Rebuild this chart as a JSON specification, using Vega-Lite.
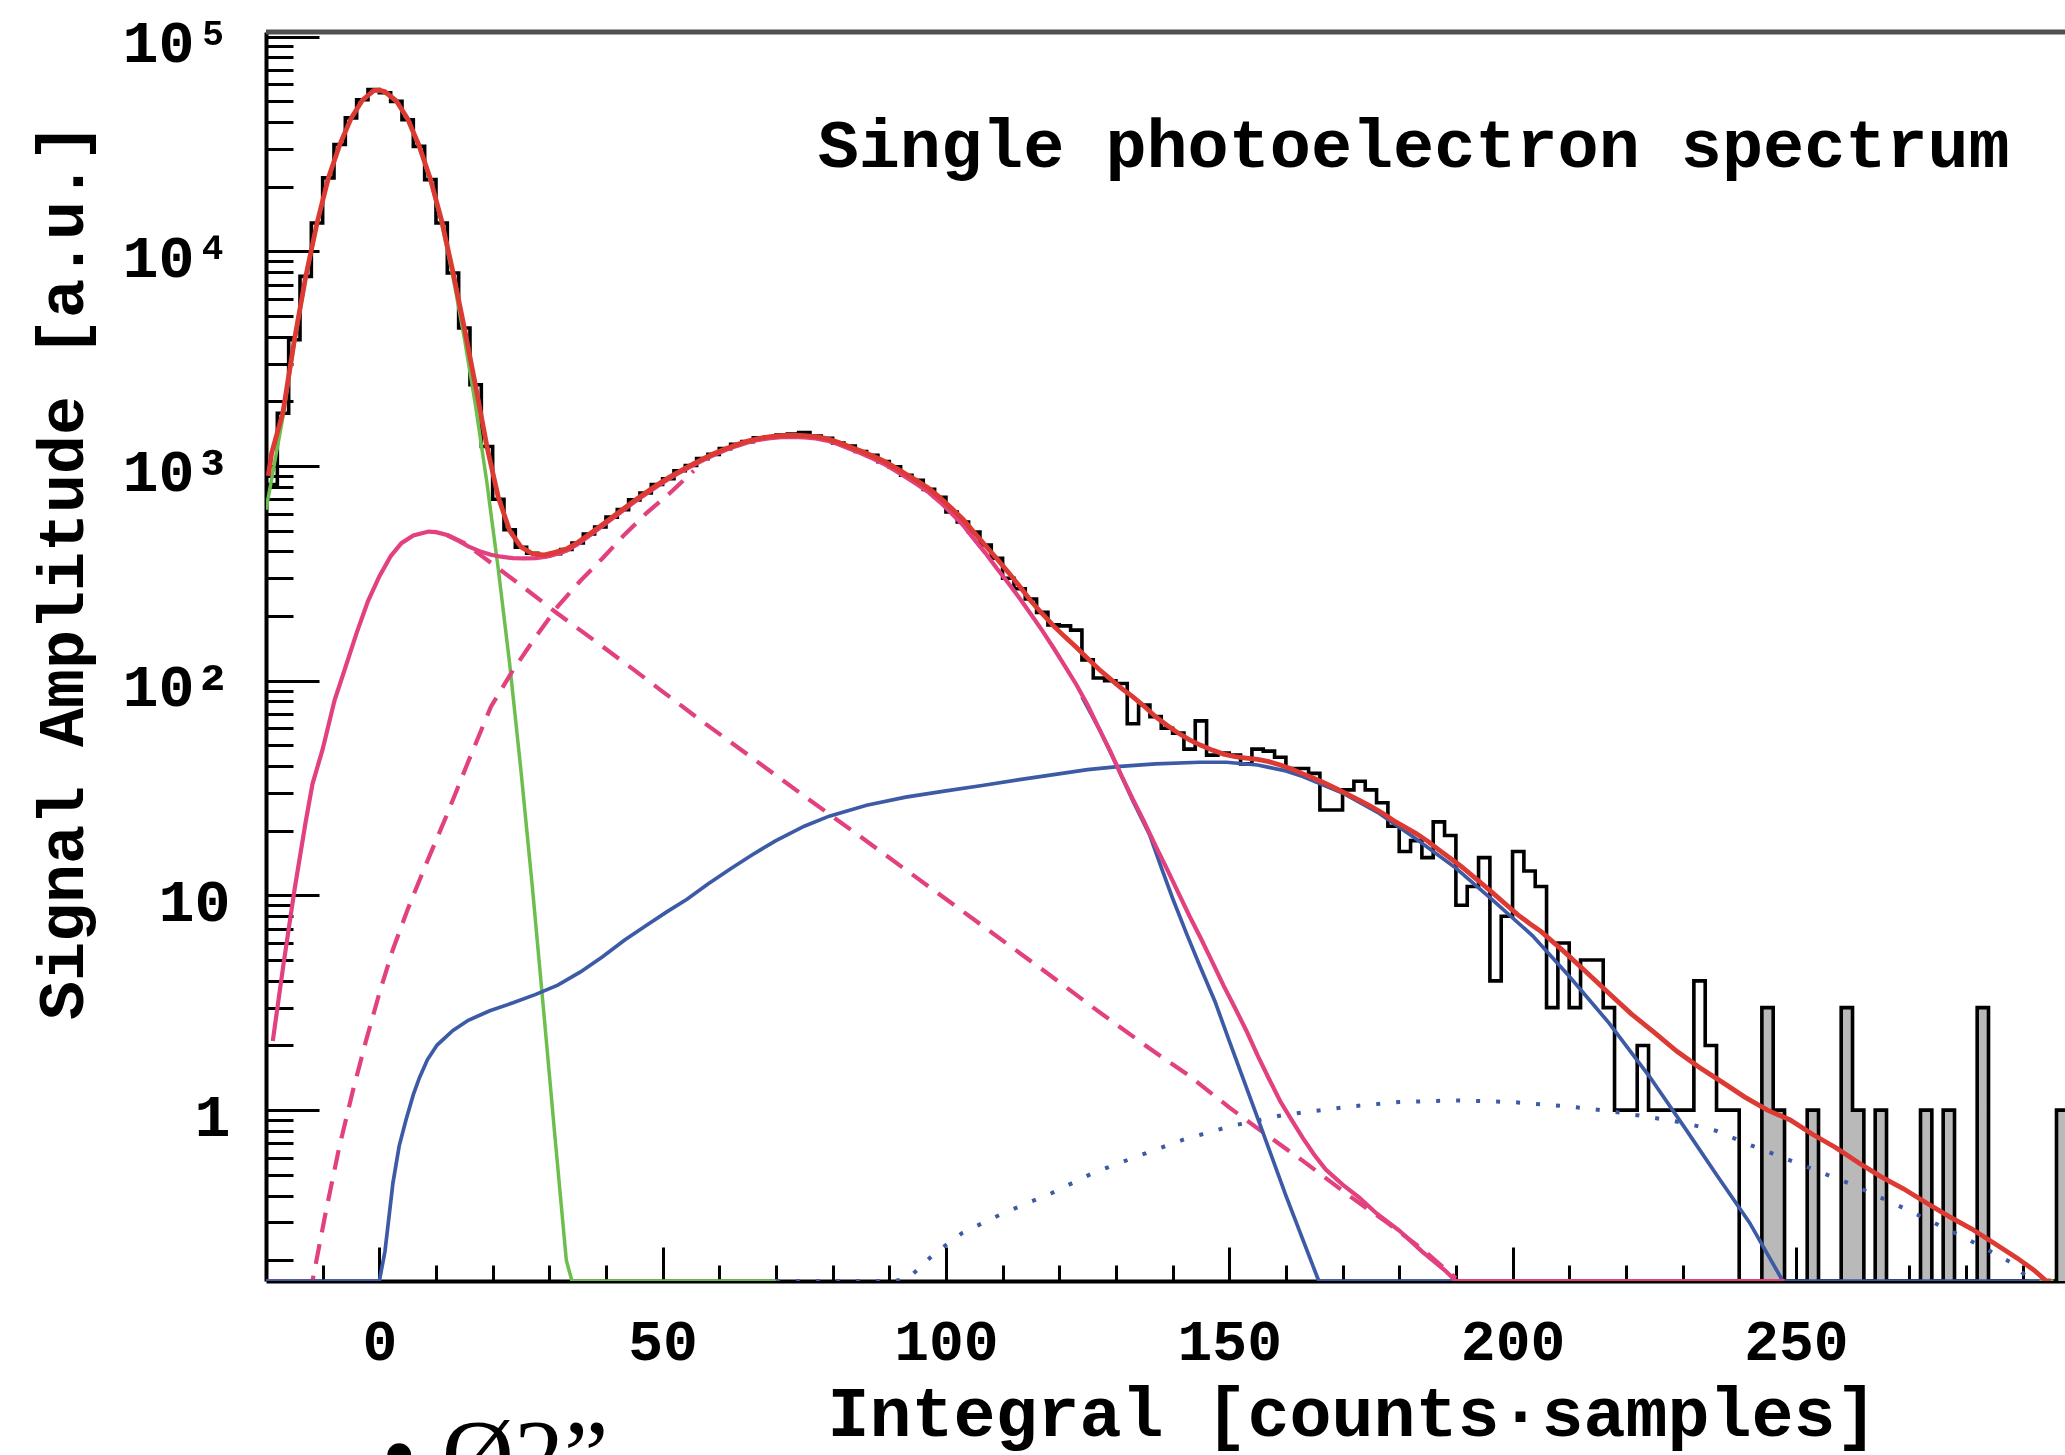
{
  "$schema": "https://vega.github.io/schema/vega-lite/v6.json",
  "width": 1799,
  "height": 1249,
  "autosize": {"type": "none"},
  "padding": {"left": 266, "top": 32, "right": 0, "bottom": 174},
  "background": "white",
  "config": {"view": {"stroke": null}},
  "datasets": {
    "hist": [
      {"x":-20,"y":820},{"x":-18,"y":1760},{"x":-16,"y":3870},{"x":-14,"y":7640},{"x":-12,"y":13550},{"x":-10,"y":21970},{"x":-8,"y":31400},{"x":-6,"y":41800},{"x":-4,"y":50800},{"x":-2,"y":56600},
      {"x":0,"y":54700},{"x":2,"y":49900},{"x":4,"y":41000},{"x":6,"y":30800},{"x":8,"y":21560},{"x":10,"y":13550},{"x":12,"y":7920},{"x":14,"y":4390},{"x":16,"y":2390},{"x":18,"y":1233},
      {"x":20,"y":700},{"x":22,"y":505},{"x":24,"y":418},{"x":26,"y":392},{"x":28,"y":380},{"x":30,"y":390},{"x":32,"y":408},{"x":34,"y":438},{"x":36,"y":482},{"x":38,"y":520},
      {"x":40,"y":578},{"x":42,"y":626},{"x":44,"y":695},{"x":46,"y":748},{"x":48,"y":820},{"x":50,"y":872},{"x":52,"y":950},{"x":54,"y":1005},{"x":56,"y":1082},{"x":58,"y":1132},
      {"x":60,"y":1205},{"x":62,"y":1262},{"x":64,"y":1298},{"x":66,"y":1352},{"x":68,"y":1365},{"x":70,"y":1392},{"x":72,"y":1410},{"x":74,"y":1432},{"x":76,"y":1378},{"x":78,"y":1346},
      {"x":80,"y":1280},{"x":82,"y":1238},{"x":84,"y":1168},{"x":86,"y":1120},{"x":88,"y":1048},{"x":90,"y":990},{"x":92,"y":905},{"x":94,"y":858},{"x":96,"y":778},{"x":98,"y":715},
      {"x":100,"y":610},{"x":102,"y":548},{"x":104,"y":492},{"x":106,"y":428},{"x":108,"y":372},{"x":110,"y":300},{"x":112,"y":268},{"x":114,"y":240},{"x":116,"y":208},{"x":118,"y":182},
      {"x":120,"y":180},{"x":122,"y":172},{"x":124,"y":125},{"x":126,"y":103},{"x":128,"y":100},{"x":130,"y":97},{"x":132,"y":63},{"x":134,"y":77},{"x":136,"y":68},{"x":138,"y":60},
      {"x":140,"y":57},{"x":142,"y":48},{"x":144,"y":65},{"x":146,"y":45},{"x":148,"y":46},{"x":150,"y":45},{"x":152,"y":41},{"x":154,"y":48},{"x":156,"y":47},{"x":158,"y":44},
      {"x":160,"y":39},{"x":162,"y":39},{"x":164,"y":37},{"x":166,"y":25},{"x":168,"y":25},{"x":170,"y":31},{"x":172,"y":34},{"x":174,"y":31},{"x":176,"y":27},{"x":178,"y":21},
      {"x":180,"y":16},{"x":182,"y":18},{"x":184,"y":15},{"x":186,"y":22},{"x":188,"y":19},{"x":190,"y":9},{"x":192,"y":11},{"x":194,"y":15},{"x":196,"y":4},{"x":198,"y":8},
      {"x":200,"y":16},{"x":202,"y":13},{"x":204,"y":11},{"x":206,"y":3},{"x":208,"y":6},{"x":210,"y":3},{"x":212,"y":5},{"x":214,"y":5},{"x":216,"y":3},{"x":218,"y":1},
      {"x":220,"y":1},{"x":222,"y":2},{"x":224,"y":1},{"x":226,"y":1},{"x":228,"y":1},{"x":230,"y":1},{"x":232,"y":4},{"x":234,"y":2},{"x":236,"y":1},{"x":238,"y":1},
      {"x":240,"y":0},{"x":242,"y":0},{"x":244,"y":3},{"x":246,"y":1},{"x":248,"y":0},{"x":250,"y":0},{"x":252,"y":1},{"x":254,"y":0},{"x":256,"y":0},{"x":258,"y":3},
      {"x":260,"y":1},{"x":262,"y":0},{"x":264,"y":1},{"x":266,"y":0},{"x":268,"y":0},{"x":270,"y":0},{"x":272,"y":1},{"x":274,"y":0},{"x":276,"y":1},{"x":278,"y":0},
      {"x":280,"y":0},{"x":282,"y":3},{"x":284,"y":0},{"x":286,"y":0},{"x":288,"y":0},{"x":290,"y":0},{"x":292,"y":0},{"x":294,"y":0},{"x":296,"y":1},{"x":298,"y":1}
    ],
    "green": [
      {"seg":"a","x":-20,"y":625},{"seg":"a","x":-19,"y":870},{"seg":"a","x":-17,"y":1700},{"seg":"a","x":-15,"y":3750},{"seg":"a","x":-13,"y":7500},{"seg":"a","x":-11,"y":13400},{"seg":"a","x":-9,"y":21800},{"seg":"a","x":-7,"y":31200},{"seg":"a","x":-5,"y":41400},{"seg":"a","x":-3,"y":50400},{"seg":"a","x":-1,"y":55900},{"seg":"a","x":0,"y":56200},{"seg":"a","x":1,"y":55000},{"seg":"a","x":3,"y":49800},{"seg":"a","x":5,"y":41000},{"seg":"a","x":7,"y":30700},{"seg":"a","x":9,"y":21400},{"seg":"a","x":11,"y":13500},{"seg":"a","x":13,"y":7600},{"seg":"a","x":15,"y":3950},{"seg":"a","x":17,"y":1900},{"seg":"a","x":19,"y":830},{"seg":"a","x":21,"y":330},{"seg":"a","x":23,"y":120},{"seg":"a","x":25,"y":38},{"seg":"a","x":27,"y":11},{"seg":"a","x":29,"y":2.9},{"seg":"a","x":31,"y":0.75},{"seg":"a","x":33,"y":0.2},{"seg":"a","x":34,"y":0.12},{"seg":"a","x":70,"y":0.01},
      {"seg":"b","x":291,"y":0.01},{"seg":"b","x":295.5,"y":0.01}
    ],
    "dotted": [
      {"x":70,"y":0.01},{"x":91,"y":0.05},{"x":93.4,"y":0.165},{"x":98,"y":0.215},{"x":102.9,"y":0.268},{"x":110,"y":0.33},{"x":118.6,"y":0.41},{"x":126,"y":0.51},{"x":134.4,"y":0.618},{"x":142,"y":0.73},{"x":150.1,"y":0.84},{"x":159.6,"y":0.95},{"x":171.3,"y":1.04},{"x":180,"y":1.09},{"x":190,"y":1.11},{"x":200,"y":1.09},{"x":210,"y":1.04},{"x":217,"y":0.99},{"x":224,"y":0.93},{"x":230.5,"y":0.87},{"x":236,"y":0.8},{"x":241.8,"y":0.69},{"x":250,"y":0.57},{"x":259.5,"y":0.455},{"x":268,"y":0.36},{"x":277.1,"y":0.276},{"x":283,"y":0.23},{"x":288.3,"y":0.193},{"x":291,"y":0.165},{"x":292,"y":0.1}
    ],
    "dashed": [
      {"seg":"exp","x":12,"y":478},{"seg":"exp","x":15,"y":438},{"seg":"exp","x":19.7,"y":354},{"seg":"exp","x":25,"y":278},{"seg":"exp","x":31.5,"y":205},{"seg":"exp","x":38.9,"y":147.5},{"seg":"exp","x":45,"y":112},{"seg":"exp","x":50,"y":89},{"seg":"exp","x":56.6,"y":65.7},{"seg":"exp","x":65,"y":45.3},{"seg":"exp","x":75,"y":29},{"seg":"exp","x":85,"y":18.7},{"seg":"exp","x":95,"y":12},{"seg":"exp","x":105,"y":7.7},{"seg":"exp","x":117.9,"y":4.34},{"seg":"exp","x":126,"y":3.0},{"seg":"exp","x":135.9,"y":1.94},{"seg":"exp","x":142.7,"y":1.46},{"seg":"exp","x":150,"y":1.03},{"seg":"exp","x":156.2,"y":0.78},{"seg":"exp","x":163,"y":0.58},{"seg":"exp","x":171.7,"y":0.39},{"seg":"exp","x":177.8,"y":0.30},{"seg":"exp","x":184,"y":0.226},{"seg":"exp","x":190,"y":0.165},
      {"seg":"gaus","x":-20,"y":0.01},{"seg":"gaus","x":-13,"y":0.05},{"seg":"gaus","x":-11.8,"y":0.16},{"seg":"gaus","x":-9.5,"y":0.33},{"seg":"gaus","x":-7.1,"y":0.667},{"seg":"gaus","x":-4.7,"y":1.22},{"seg":"gaus","x":-2.4,"y":2.08},{"seg":"gaus","x":0,"y":3.5},{"seg":"gaus","x":2.4,"y":5.6},{"seg":"gaus","x":5,"y":8.6},{"seg":"gaus","x":8,"y":13.5},{"seg":"gaus","x":11.8,"y":23.3},{"seg":"gaus","x":15.7,"y":42},{"seg":"gaus","x":19.7,"y":75.7},{"seg":"gaus","x":23.6,"y":112},{"seg":"gaus","x":27.6,"y":160},{"seg":"gaus","x":31.5,"y":222},{"seg":"gaus","x":35.5,"y":292},{"seg":"gaus","x":39.4,"y":372},{"seg":"gaus","x":43.3,"y":480},{"seg":"gaus","x":47.2,"y":605},{"seg":"gaus","x":51.2,"y":745},{"seg":"gaus","x":55.5,"y":950}
    ],
    "blue": [
      {"seg":"two","x":-20,"y":0.01},{"seg":"two","x":0,"y":0.1},{"seg":"two","x":1,"y":0.22},{"seg":"two","x":2.4,"y":0.457},{"seg":"two","x":3.5,"y":0.68},{"seg":"two","x":4.7,"y":0.9},{"seg":"two","x":6,"y":1.18},{"seg":"two","x":7.1,"y":1.42},{"seg":"two","x":8.5,"y":1.72},{"seg":"two","x":10.2,"y":2.01},{"seg":"two","x":13,"y":2.35},{"seg":"two","x":15.7,"y":2.62},{"seg":"two","x":19.5,"y":2.9},{"seg":"two","x":23.6,"y":3.16},{"seg":"two","x":27.5,"y":3.45},{"seg":"two","x":31.5,"y":3.82},{"seg":"two","x":35.5,"y":4.4},{"seg":"two","x":39.4,"y":5.18},{"seg":"two","x":43.3,"y":6.2},{"seg":"two","x":47.3,"y":7.3},{"seg":"two","x":50.8,"y":8.4},{"seg":"two","x":54.3,"y":9.6},{"seg":"two","x":58,"y":11.3},{"seg":"two","x":62,"y":13.3},{"seg":"two","x":65.9,"y":15.5},{"seg":"two","x":70,"y":18},{"seg":"two","x":75,"y":21},{"seg":"two","x":79.4,"y":23.4},{"seg":"two","x":86,"y":26.3},{"seg":"two","x":92.9,"y":28.7},{"seg":"two","x":100,"y":30.7},{"seg":"two","x":106.4,"y":32.5},{"seg":"two","x":113,"y":34.6},{"seg":"two","x":119.9,"y":36.8},{"seg":"two","x":125,"y":38.5},{"seg":"two","x":130.8,"y":39.9},{"seg":"two","x":137,"y":41},{"seg":"two","x":144.8,"y":41.7},{"seg":"two","x":149.5,"y":41.7},{"seg":"two","x":155,"y":40.5},{"seg":"two","x":160,"y":38},{"seg":"two","x":163,"y":35.8},{"seg":"two","x":170,"y":30},{"seg":"two","x":176.5,"y":24.1},{"seg":"two","x":183,"y":18.3},{"seg":"two","x":190,"y":13.4},{"seg":"two","x":196.5,"y":9.5},{"seg":"two","x":203.5,"y":6.5},{"seg":"two","x":210,"y":4.2},{"seg":"two","x":217,"y":2.55},{"seg":"two","x":224.2,"y":1.43},{"seg":"two","x":230.5,"y":0.82},{"seg":"two","x":236,"y":0.5},{"seg":"two","x":241.8,"y":0.3},{"seg":"two","x":247.7,"y":0.16},{"seg":"two","x":250,"y":0.01},{"seg":"two","x":293,"y":0.01},
      {"seg":"one","x":124,"y":84},{"seg":"one","x":127,"y":60},{"seg":"one","x":130,"y":41},{"seg":"one","x":133,"y":27.5},{"seg":"one","x":136,"y":19},{"seg":"one","x":138,"y":13.5},{"seg":"one","x":140,"y":9.7},{"seg":"one","x":142.5,"y":6.6},{"seg":"one","x":144.8,"y":4.7},{"seg":"one","x":147.5,"y":3.2},{"seg":"one","x":150,"y":2.1},{"seg":"one","x":155,"y":0.92},{"seg":"one","x":160,"y":0.4},{"seg":"one","x":165.8,"y":0.16},{"seg":"one","x":168,"y":0.01},{"seg":"one","x":190,"y":0.01}
    ],
    "magenta": [
      {"x":-18.8,"y":2.1},{"x":-17,"y":4.6},{"x":-15,"y":10.5},{"x":-13,"y":22},{"x":-11.8,"y":33},{"x":-10,"y":48},{"x":-7.9,"y":81},{"x":-6,"y":115},{"x":-4,"y":167},{"x":-2,"y":235},{"x":0,"y":306},{"x":2,"y":380},{"x":3.9,"y":437},{"x":6,"y":475},{"x":8.7,"y":495},{"x":10,"y":492},{"x":11.8,"y":478},{"x":14,"y":448},{"x":15.7,"y":422},{"x":18,"y":398},{"x":19.7,"y":386},{"x":21.5,"y":378},{"x":23.6,"y":372},{"x":25.6,"y":371},{"x":27.6,"y":372},{"x":29.5,"y":378},{"x":31.5,"y":390},{"x":33,"y":402},
      {"x":35,"y":432},{"x":37,"y":472},{"x":39,"y":516},{"x":41,"y":566},{"x":43,"y":620},{"x":45,"y":679},{"x":47,"y":739},{"x":49,"y":803},{"x":51,"y":868},{"x":53,"y":932},{"x":55,"y":996},{"x":57,"y":1060},{"x":59,"y":1124},{"x":61,"y":1183},{"x":63,"y":1237},{"x":65,"y":1286},{"x":67,"y":1324},{"x":69,"y":1348},{"x":71,"y":1362},{"x":73,"y":1365},{"x":75,"y":1360},{"x":77,"y":1344},{"x":79,"y":1313},
      {"x":81,"y":1263},{"x":83,"y":1202},{"x":85,"y":1146},{"x":87,"y":1085},{"x":89,"y":1024},{"x":91,"y":954},{"x":93,"y":884},{"x":95,"y":818},{"x":97,"y":752},{"x":99,"y":677},{"x":101,"y":601},{"x":103,"y":531},{"x":105,"y":455},{"x":107,"y":392},{"x":109,"y":333},{"x":111,"y":285},{"x":113,"y":242},{"x":115,"y":204},{"x":117,"y":171},{"x":119,"y":142},{"x":121,"y":117},{"x":123,"y":96},{"x":125,"y":77},{"x":127,"y":60},{"x":129,"y":47},{"x":131,"y":36},{"x":133,"y":28},{"x":135,"y":22},{"x":137,"y":17},{"x":139,"y":13.3},{"x":141,"y":10.3},{"x":143,"y":8.0},{"x":145,"y":6.3},{"x":147,"y":4.9},{"x":149,"y":3.8},{"x":151,"y":3.0},{"x":153,"y":2.35},{"x":155,"y":1.8},{"x":157,"y":1.4},{"x":159,"y":1.1},{"x":161,"y":0.9},{"x":163,"y":0.74},{"x":165,"y":0.62},{"x":167,"y":0.53},{"x":170,"y":0.45},{"x":173,"y":0.39},{"x":176,"y":0.33},{"x":180,"y":0.275},{"x":184,"y":0.22},{"x":188,"y":0.18},{"x":190,"y":0.16},{"x":192,"y":0.01},{"x":248,"y":0.01}
    ],
    "red": [
      {"x":-19.6,"y":900},{"x":-19,"y":1150},{"x":-17,"y":1780},{"x":-15,"y":3850},{"x":-13,"y":7600},{"x":-11,"y":13500},{"x":-9,"y":21900},{"x":-7,"y":31300},{"x":-5,"y":41500},{"x":-3,"y":50500},{"x":-1,"y":56000},{"x":0,"y":56300},{"x":1,"y":55300},{"x":3,"y":50200},{"x":5,"y":41400},{"x":7,"y":31100},{"x":9,"y":21800},{"x":11,"y":13900},{"x":13,"y":8000},{"x":15,"y":4400},{"x":17,"y":2350},{"x":19,"y":1230},{"x":21,"y":715},{"x":23,"y":500},{"x":25,"y":420},{"x":27,"y":390},{"x":29,"y":385},{"x":31,"y":396},{"x":33,"y":410},
      {"x":35,"y":440},{"x":37,"y":480},{"x":39,"y":525},{"x":41,"y":575},{"x":43,"y":630},{"x":45,"y":690},{"x":47,"y":750},{"x":49,"y":815},{"x":51,"y":880},{"x":53,"y":945},{"x":55,"y":1010},{"x":57,"y":1075},{"x":59,"y":1140},{"x":61,"y":1200},{"x":63,"y":1255},{"x":65,"y":1305},{"x":67,"y":1345},{"x":69,"y":1370},{"x":71,"y":1385},{"x":73,"y":1390},{"x":75,"y":1385},{"x":77,"y":1370},{"x":79,"y":1340},
      {"x":81,"y":1290},{"x":83,"y":1230},{"x":85,"y":1175},{"x":87,"y":1115},{"x":89,"y":1055},{"x":91,"y":985},{"x":93,"y":915},{"x":95,"y":850},{"x":97,"y":785},{"x":99,"y":710},{"x":101,"y":635},{"x":103,"y":565},{"x":105,"y":490},{"x":107,"y":425},{"x":109,"y":370},{"x":111,"y":320},{"x":113,"y":275},{"x":115,"y":235},{"x":117,"y":205},{"x":119,"y":180},{"x":121,"y":160},{"x":123,"y":143},{"x":125,"y":127},{"x":127,"y":113},{"x":129,"y":102},{"x":131,"y":92},{"x":133,"y":84},{"x":135,"y":76},{"x":137,"y":68},{"x":139,"y":62},{"x":141,"y":57},{"x":143,"y":53},{"x":145,"y":50},{"x":147,"y":47.5},{"x":149,"y":45.5},
      {"x":151,"y":44.3},{"x":153,"y":43.6},{"x":155,"y":43},{"x":157,"y":42},{"x":159,"y":40.5},{"x":161,"y":38.8},{"x":163,"y":36.8},{"x":165,"y":35},{"x":167,"y":33.2},{"x":169,"y":31.3},{"x":171,"y":29.5},{"x":173,"y":27.7},{"x":175,"y":26},{"x":177,"y":24.2},{"x":179,"y":22.3},{"x":181,"y":20.8},{"x":183,"y":19.4},{"x":185,"y":17.9},{"x":187,"y":16.3},{"x":189,"y":14.9},{"x":191,"y":13.6},{"x":193,"y":12.3},{"x":195,"y":11.1},{"x":197,"y":10},{"x":199,"y":9},{"x":201,"y":8.1},{"x":203,"y":7.4},{"x":205,"y":6.8},{"x":209,"y":5.5},{"x":213,"y":4.4},{"x":217,"y":3.5},{"x":221,"y":2.8},{"x":225,"y":2.3},{"x":229,"y":1.88},{"x":233,"y":1.58},{"x":237,"y":1.35},{"x":241,"y":1.15},{"x":245,"y":1.0},{"x":249,"y":0.9},{"x":253,"y":0.77},{"x":257,"y":0.67},{"x":261,"y":0.57},{"x":265,"y":0.49},{"x":269,"y":0.43},{"x":273,"y":0.37},{"x":277,"y":0.32},{"x":281,"y":0.28},{"x":285,"y":0.24},{"x":289,"y":0.205},{"x":292,"y":0.18},{"x":294.2,"y":0.16},{"x":295,"y":0.12}
    ]
  },
  "layer": [
    {
      "data": {"name": "hist"},
      "transform": [{"filter": "datum.x >= 240"}],
      "mark": {"type": "area", "interpolate": "step-after", "color": "#b9b9b9", "clip": true, "invalid": "show"},
      "encoding": {
        "x": {"field": "x", "type": "quantitative"},
        "y": {"field": "y", "type": "quantitative"}
      }
    },
    {
      "data": {"name": "hist"},
      "mark": {"type": "line", "interpolate": "step-after", "color": "black", "strokeWidth": 3.6, "strokeJoin": "miter", "clip": true, "invalid": "show"},
      "encoding": {
        "x": {
          "field": "x", "type": "quantitative",
          "scale": {"domain": [-20, 297.5], "nice": false, "zero": false},
          "axis": {
            "values": [-10,0,10,20,30,40,50,60,70,80,90,100,110,120,130,140,150,160,170,180,190,200,210,220,230,240,250,260,270,280,290],
            "tickSize": {"condition": {"test": "datum.value % 50 === 0", "value": -34}, "value": -16},
            "tickWidth": 3, "tickColor": "black",
            "domainColor": "black", "domainWidth": 4,
            "grid": false,
            "labelExpr": "datum.value % 50 === 0 ? datum.label : ''",
            "labelFont": "Liberation Mono", "labelFontWeight": "bold", "labelFontSize": 58, "labelColor": "black",
            "labelPadding": 66, "labelBaseline": "top", "labelFlush": false, "labelOverlap": false, "labelBound": false,
            "title": "Integral [counts·samples]",
            "titleFont": "Liberation Mono", "titleFontWeight": "bold", "titleFontSize": 70, "titleColor": "black",
            "titleX": 1086, "titleY": 154, "titleAlign": "center", "titleBaseline": "alphabetic", "titleAnchor": null
          }
        },
        "y": {
          "field": "y", "type": "quantitative",
          "scale": {"type": "log", "domain": [0.16, 105000], "clamp": true, "nice": false},
          "axis": {
            "values": [0.2,0.3,0.4,0.5,0.6,0.7,0.8,0.9,1,2,3,4,5,6,7,8,9,10,20,30,40,50,60,70,80,90,100,200,300,400,500,600,700,800,900,1000,2000,3000,4000,5000,6000,7000,8000,9000,10000,20000,30000,40000,50000,60000,70000,80000,90000,100000],
            "tickSize": {"condition": {"test": "datum.value == 1 || datum.value == 10 || datum.value == 100 || datum.value == 1000 || datum.value == 10000 || datum.value == 100000", "value": -53}, "value": -27},
            "tickWidth": 3, "tickColor": "black",
            "domainColor": "black", "domainWidth": 4,
            "grid": false,
            "labelExpr": "datum.value == 1 ? '1' : datum.value == 10 ? '10' : datum.value == 100 ? '10²' : datum.value == 1000 ? '10³' : datum.value == 10000 ? '10⁴' : datum.value == 100000 ? '10⁵' : ''",
            "labelFont": "Liberation Mono", "labelFontWeight": "bold", "labelFontSize": 60, "labelColor": "black",
            "labelPadding": 89, "labelOffset": 7, "labelBaseline": "middle", "labelFlush": false, "labelOverlap": false, "labelBound": false,
            "title": "Signal Amplitude [a.u.]",
            "titleFont": "Liberation Mono", "titleFontWeight": "bold", "titleFontSize": 65, "titleColor": "black",
            "titleX": -204, "titleY": 539, "titleAngle": -90, "titleAlign": "center", "titleBaseline": "middle", "titleAnchor": null
          }
        }
      }
    },
    {
      "data": {"values": [{}]},
      "mark": {"type": "rule", "color": "#505050", "strokeWidth": 5},
      "encoding": {"y": {"datum": 105000, "type": "quantitative"}}
    },
    {
      "data": {"name": "green"},
      "mark": {"type": "line", "color": "#6cbf4c", "strokeWidth": 3.5, "clip": true},
      "encoding": {"x": {"field": "x", "type": "quantitative"}, "y": {"field": "y", "type": "quantitative"}, "detail": {"field": "seg"}}
    },
    {
      "data": {"name": "dotted"},
      "mark": {"type": "line", "color": "#3c5aa6", "strokeWidth": 4, "strokeDash": [4, 16], "clip": true},
      "encoding": {"x": {"field": "x", "type": "quantitative"}, "y": {"field": "y", "type": "quantitative"}}
    },
    {
      "data": {"name": "dashed"},
      "mark": {"type": "line", "color": "#e2407f", "strokeWidth": 4.2, "strokeDash": [20, 12], "clip": true},
      "encoding": {"x": {"field": "x", "type": "quantitative"}, "y": {"field": "y", "type": "quantitative"}, "detail": {"field": "seg"}}
    },
    {
      "data": {"name": "blue"},
      "mark": {"type": "line", "color": "#3c5aa6", "strokeWidth": 3.7, "clip": true},
      "encoding": {"x": {"field": "x", "type": "quantitative"}, "y": {"field": "y", "type": "quantitative"}, "detail": {"field": "seg"}}
    },
    {
      "data": {"name": "magenta"},
      "mark": {"type": "line", "color": "#e2407f", "strokeWidth": 4.2, "clip": true},
      "encoding": {"x": {"field": "x", "type": "quantitative"}, "y": {"field": "y", "type": "quantitative"}}
    },
    {
      "data": {"name": "red"},
      "mark": {"type": "line", "color": "#dc3a32", "strokeWidth": 4.8, "clip": true},
      "encoding": {"x": {"field": "x", "type": "quantitative"}, "y": {"field": "y", "type": "quantitative"}}
    },
    {
      "data": {"values": [{"label": "Single photoelectron spectrum"}]},
      "mark": {"type": "text", "font": "Liberation Mono", "fontWeight": "bold", "fontSize": 68.5, "align": "center", "baseline": "alphabetic", "color": "black"},
      "encoding": {"x": {"datum": 182.55, "type": "quantitative"}, "y": {"datum": 24700, "type": "quantitative"}, "text": {"field": "label"}}
    },
    {
      "data": {"values": [{"label": "• Ø2”"}]},
      "mark": {"type": "text", "font": "Liberation Serif", "fontSize": 100, "align": "left", "baseline": "alphabetic", "color": "black", "dy": 207},
      "encoding": {"x": {"datum": 0.44, "type": "quantitative"}, "y": {"datum": 0.16, "type": "quantitative"}, "text": {"field": "label"}}
    }
  ]
}
